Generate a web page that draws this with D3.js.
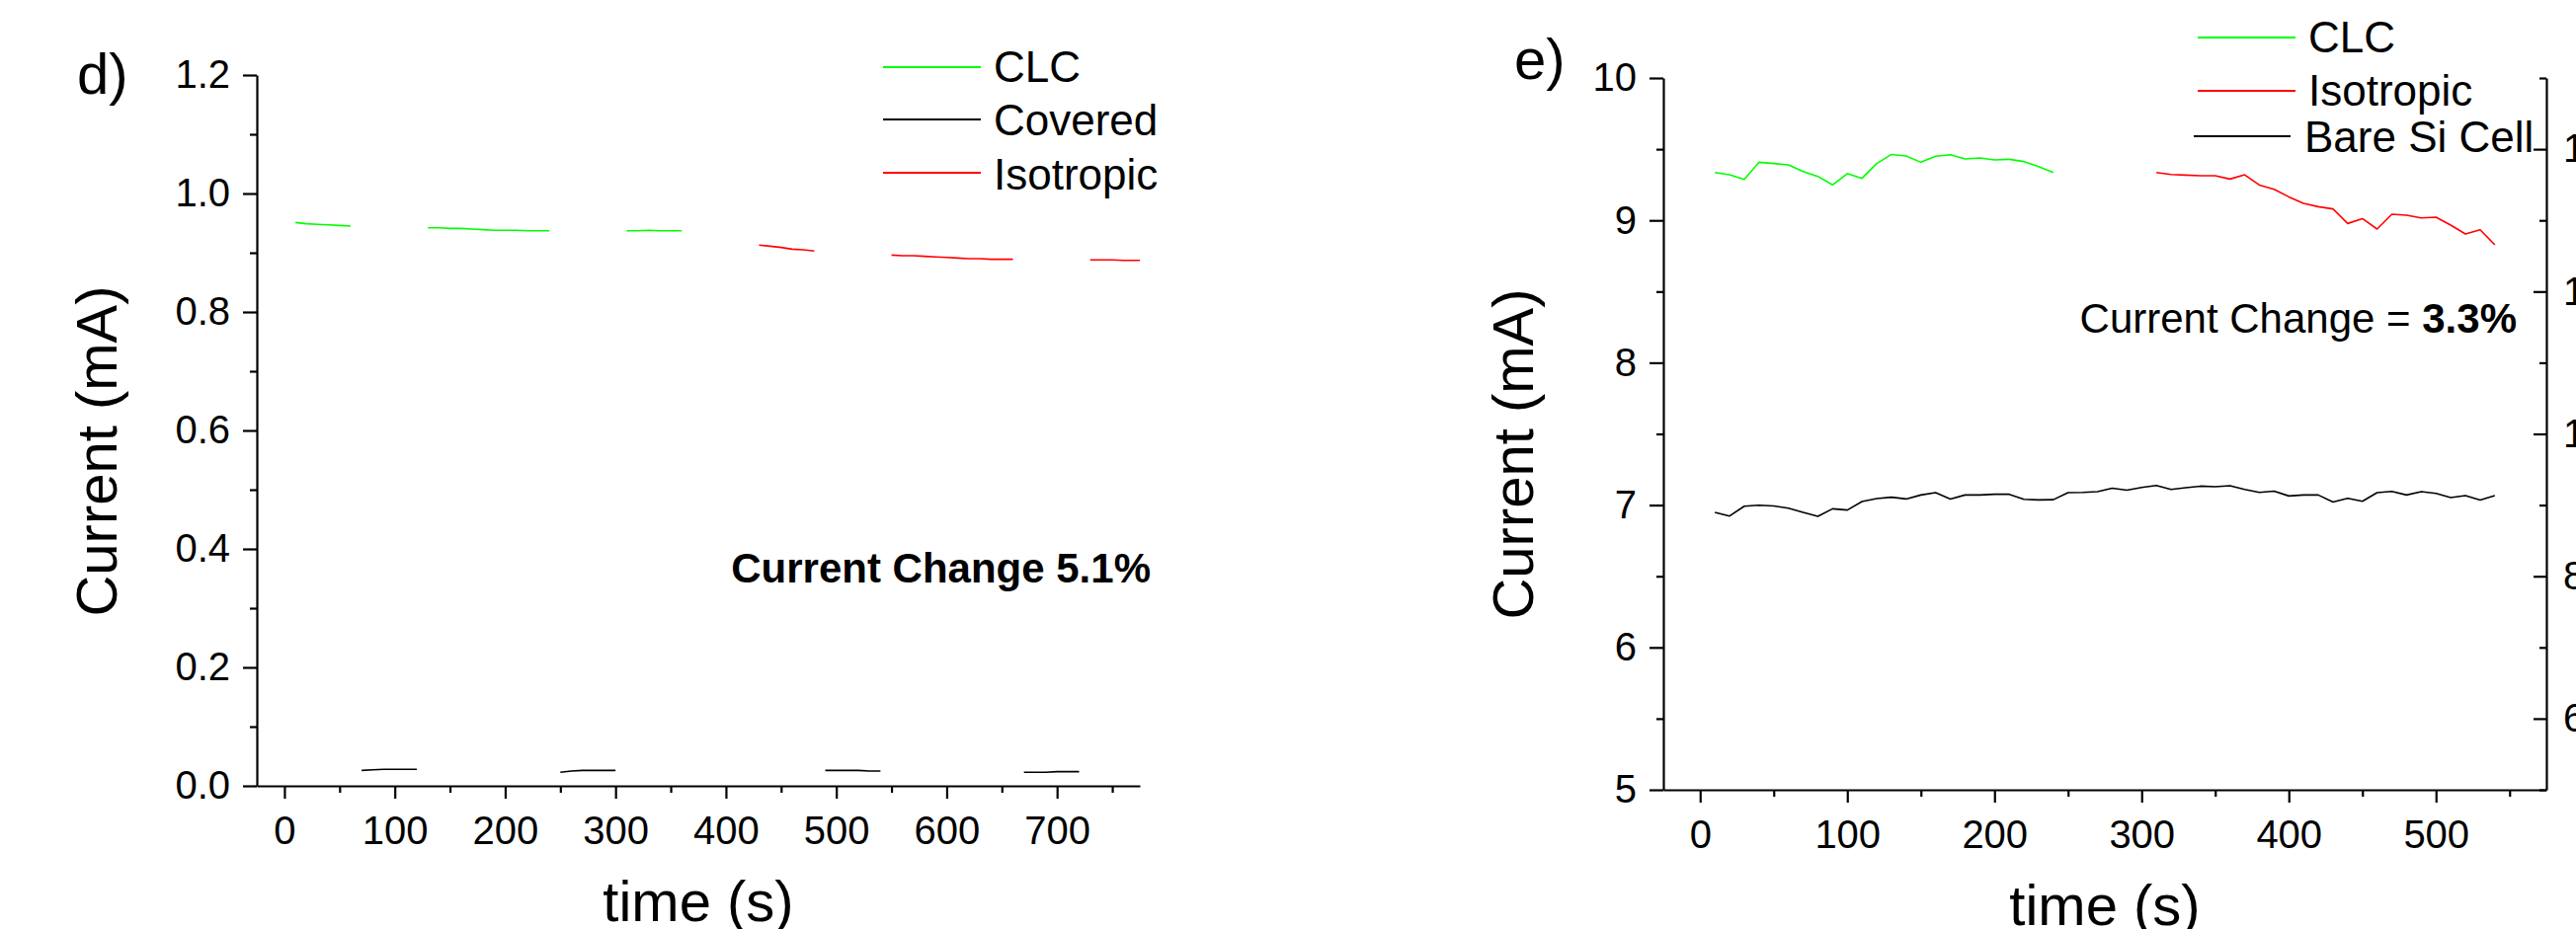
<!DOCTYPE html>
<html>
<head>
<meta charset="utf-8">
<script src="https://cdn.jsdelivr.net/npm/d3@7"></script>
<style>
  body { margin: 0; background: #fff; }
  svg { display: block; font-family: "Liberation Sans", Arial, sans-serif; }
</style>
</head>
<body>
<svg id="chart" width="2608" height="941"></svg>
<script>
// panel d) - null marks a gap between measurement windows
const dClcTime = [10, 20, 30, 40, 50, 60, 70, 130, 140, 150, 160, 170, 180, 190, 200, 210, 220, 230, 240, 250, 310, 320, 330, 340, 350, 360];
const dClcCurrent = [0.951, 0.949, 0.948, 0.947, 0.946, 0.945, null, 0.942, 0.942, 0.941, 0.941, 0.940, 0.939, 0.938, 0.938, 0.938, 0.937, 0.937, 0.937, null, 0.937, 0.937, 0.938, 0.937, 0.937, 0.937];
const dCoveredTime = [70, 80, 90, 100, 110, 120, 130, 250, 260, 270, 280, 290, 300, 310, 490, 500, 510, 520, 530, 540, 550, 670, 680, 690, 700, 710, 720];
const dCoveredCurrent = [0.026, 0.027, 0.028, 0.028, 0.028, 0.028, null, 0.023, 0.025, 0.026, 0.026, 0.026, 0.026, null, 0.026, 0.026, 0.026, 0.026, 0.025, 0.025, null, 0.023, 0.023, 0.023, 0.024, 0.024, 0.024];
const dIsoTime = [430, 440, 450, 460, 470, 480, 490, 550, 560, 570, 580, 590, 600, 610, 620, 630, 640, 650, 660, 670, 730, 740, 750, 760, 770, 780];
const dIsoCurrent = [0.913, 0.911, 0.909, 0.906, 0.905, 0.903, null, 0.896, 0.895, 0.895, 0.894, 0.893, 0.892, 0.891, 0.890, 0.890, 0.889, 0.889, 0.889, null, 0.888, 0.888, 0.888, 0.887, 0.887, 0.887];

const dXMajor = [0, 100, 200, 300, 400, 500, 600, 700];
const dXMinor = [50, 150, 250, 350, 450, 550, 650, 750];
const dYMajor = [0, 0.2, 0.4, 0.6, 0.8, 1.0, 1.2];
const dYMinor = [0.1, 0.3, 0.5, 0.7, 0.9, 1.1];

// panel e)
const eClcTime = [10, 20, 30, 40, 50, 60, 70, 80, 90, 100, 110, 120, 130, 140, 150, 160, 170, 180, 190, 200, 210, 220, 230, 240];
const eClcCurrent = [9.336, 9.320, 9.288, 9.408, 9.399, 9.390, 9.343, 9.309, 9.249, 9.329, 9.295, 9.399, 9.463, 9.452, 9.408, 9.450, 9.461, 9.431, 9.438, 9.424, 9.429, 9.413, 9.378, 9.336];
const eIsoTime = [310, 320, 330, 340, 350, 360, 370, 380, 390, 400, 410, 420, 430, 440, 450, 460, 470, 480, 490, 500, 510, 520, 530, 540];
const eIsoCurrent = [9.336, 9.322, 9.318, 9.313, 9.313, 9.290, 9.320, 9.248, 9.218, 9.165, 9.119, 9.096, 9.080, 8.978, 9.012, 8.939, 9.043, 9.036, 9.017, 9.022, 8.967, 8.904, 8.934, 8.828];
const eBareTime = [10, 20, 30, 40, 50, 60, 70, 80, 90, 100, 110, 120, 130, 140, 150, 160, 170, 180, 190, 200, 210, 220, 230, 240, 250, 260, 270, 280, 290, 300, 310, 320, 330, 340, 350, 360, 370, 380, 390, 400, 410, 420, 430, 440, 450, 460, 470, 480, 490, 500, 510, 520, 530, 540];
const eBareCurrent = [6.949, 6.923, 6.992, 6.999, 6.994, 6.978, 6.949, 6.921, 6.974, 6.965, 7.025, 7.046, 7.055, 7.043, 7.071, 7.087, 7.043, 7.071, 7.071, 7.076, 7.076, 7.041, 7.036, 7.038, 7.087, 7.089, 7.094, 7.119, 7.105, 7.124, 7.138, 7.110, 7.122, 7.133, 7.129, 7.136, 7.110, 7.089, 7.098, 7.064, 7.071, 7.071, 7.022, 7.048, 7.027, 7.087, 7.096, 7.071, 7.094, 7.082, 7.053, 7.067, 7.036, 7.067];

const eXMajor = [0, 100, 200, 300, 400, 500];
const eXMinor = [50, 150, 250, 350, 450, 550];
const eYMajor = [5, 6, 7, 8, 9, 10];
const eYMinor = [5.5, 6.5, 7.5, 8.5, 9.5];
const eRightMajor = [6, 8, 10, 12, 14];
const eRightMinor = [5, 7, 9, 11, 13, 15];

const GREEN = "#00ff00";
const RED = "#ff0000";
const BLACK = "#000000";

const svg = d3.select('#chart');

function zip(times, values) {
  return times.map((t, i) => ({t: t, v: values[i]}));
}

function styleAxis(g, fontSize) {
  g.attr('font-family', null).attr('font-size', null);
  g.selectAll('path.domain').attr('stroke', BLACK).attr('stroke-width', 2.2);
  g.selectAll('.tick line').attr('stroke', BLACK).attr('stroke-width', 2.2);
  g.selectAll('.tick text')
    .style('font-size', fontSize + 'px')
    .style('fill', BLACK);
}

function drawAxes(p) {
  const g = svg.append('g');
  let y0 = p.y.range()[0];
  let x0 = p.x.range()[0];

  g.append('g')
    .attr('transform', 'translate(0,' + y0 + ')')
    .call(d3.axisBottom(p.x).tickValues(p.xMinor).tickSize(7).tickSizeOuter(0).tickFormat(''))
    .call(a => a.select('.domain').remove())
    .call(a => styleAxis(a, 40));
  g.append('g')
    .attr('transform', 'translate(0,' + y0 + ')')
    .call(d3.axisBottom(p.x).tickValues(p.xMajor).tickSize(13).tickPadding(18).tickSizeOuter(0))
    .call(a => styleAxis(a, 40));

  g.append('g')
    .attr('transform', 'translate(' + x0 + ',0)')
    .call(d3.axisLeft(p.y).tickValues(p.yMinor).tickSize(7).tickSizeOuter(0).tickFormat(''))
    .call(a => a.select('.domain').remove())
    .call(a => styleAxis(a, 40));
  g.append('g')
    .attr('transform', 'translate(' + x0 + ',0)')
    .call(d3.axisLeft(p.y).tickValues(p.yMajor).tickSize(14).tickPadding(13).tickSizeOuter(0).tickFormat(p.yFormat))
    .call(a => styleAxis(a, 40));
}

function drawSeries(p, series) {
  let clipId = 'clip-' + p.name;
  svg.append('clipPath')
    .attr('id', clipId)
    .append('rect')
    .attr('x', p.x.range()[0])
    .attr('y', p.y.range()[1])
    .attr('width', p.x.range()[1] - p.x.range()[0])
    .attr('height', p.y.range()[0] - p.y.range()[1]);

  let line = d3.line()
    .defined(d => d.v != null)
    .x(d => p.x(d.t))
    .y(d => p.y(d.v));

  svg.append('g')
    .attr('clip-path', 'url(#' + clipId + ')')
    .selectAll('path')
    .data(series)
    .join('path')
    .attr('d', s => line(s.data))
    .attr('fill', 'none')
    .attr('stroke', s => s.color)
    .attr('stroke-width', 1.6)
    .attr('stroke-linejoin', 'round');
}

function drawLegend(items) {
  let g = svg.append('g');
  items.forEach(function(it) {
    g.append('line')
      .attr('x1', it.x1).attr('x2', it.x2)
      .attr('y1', it.ly).attr('y2', it.ly)
      .attr('stroke', it.color)
      .attr('stroke-width', 1.8);
    g.append('text')
      .attr('x', it.tx)
      .attr('y', it.ty)
      .style('font-size', '44px')
      .style('fill', BLACK)
      .text(it.label);
  });
}

function text(x, y, size, str, anchor, rotate) {
  let t = svg.append('text')
    .style('font-size', size + 'px')
    .style('fill', BLACK)
    .attr('text-anchor', anchor || 'start')
    .text(str);
  if (rotate) {
    t.attr('transform', 'translate(' + x + ',' + y + ') rotate(' + rotate + ')');
  } else {
    t.attr('x', x).attr('y', y);
  }
  return t;
}

// ---- panel d ----
const panelD = {
  name: 'd',
  x: d3.scaleLinear().domain([-25, 775]).range([260, 1154]),
  y: d3.scaleLinear().domain([0, 1.2]).range([796, 76]),
  xMajor: dXMajor, xMinor: dXMinor,
  yMajor: dYMajor, yMinor: dYMinor,
  yFormat: d3.format('.1f')
};

drawAxes(panelD);
drawSeries(panelD, [
  {color: GREEN, data: zip(dClcTime, dClcCurrent)},
  {color: BLACK, data: zip(dCoveredTime, dCoveredCurrent)},
  {color: RED, data: zip(dIsoTime, dIsoCurrent)}
]);
drawLegend([
  {label: 'CLC', color: GREEN, x1: 894, x2: 993, ly: 68, tx: 1006, ty: 83},
  {label: 'Covered', color: BLACK, x1: 894, x2: 993, ly: 121, tx: 1006, ty: 137},
  {label: 'Isotropic', color: RED, x1: 894, x2: 993, ly: 175, tx: 1006, ty: 192}
]);
text(78, 95, 58, 'd)');
text(118, 457, 58, 'Current (mA)', 'middle', -90);
text(707, 933, 58, 'time (s)', 'middle');
text(1165, 590, 42, 'Current Change 5.1%', 'end').style('font-weight', 'bold');

// ---- panel e ----
const panelE = {
  name: 'e',
  x: d3.scaleLinear().domain([-25, 575]).range([1684, 2578]),
  y: d3.scaleLinear().domain([5, 10]).range([800, 79]),
  xMajor: eXMajor, xMinor: eXMinor,
  yMajor: eYMajor, yMinor: eYMinor,
  yFormat: d3.format('d')
};
const yRightE = d3.scaleLinear().domain([5, 15]).range([800, 79]);

drawAxes(panelE);

let rightAxis = svg.append('g').attr('transform', 'translate(2578,0)');
rightAxis.append('g')
  .call(d3.axisRight(yRightE).tickValues(eRightMinor).tickSize(-7).tickSizeOuter(0).tickFormat(''))
  .call(a => a.select('.domain').remove())
  .call(a => styleAxis(a, 40));
rightAxis.append('g')
  .call(d3.axisRight(yRightE).tickValues(eRightMajor).tickSize(-13).tickPadding(17).tickSizeOuter(0).tickFormat(d3.format('d')))
  .call(a => styleAxis(a, 40));

drawSeries(panelE, [
  {color: GREEN, data: zip(eClcTime, eClcCurrent)},
  {color: RED, data: zip(eIsoTime, eIsoCurrent)},
  {color: BLACK, data: zip(eBareTime, eBareCurrent)}
]);
drawLegend([
  {label: 'CLC', color: GREEN, x1: 2225, x2: 2324, ly: 38, tx: 2337, ty: 53},
  {label: 'Isotropic', color: RED, x1: 2225, x2: 2324, ly: 92, tx: 2337, ty: 107},
  {label: 'Bare Si Cell', color: BLACK, x1: 2221, x2: 2319, ly: 138, tx: 2333, ty: 154}
]);
text(1533, 80, 58, 'e)');
text(1552, 460, 58, 'Current (mA)', 'middle', -90);
text(2131, 937, 58, 'time (s)', 'middle');

let change = text(2548, 337, 42, 'Current Change = ', 'end');
change.append('tspan').style('font-weight', 'bold').text('3.3%');
</script>
</body>
</html>
